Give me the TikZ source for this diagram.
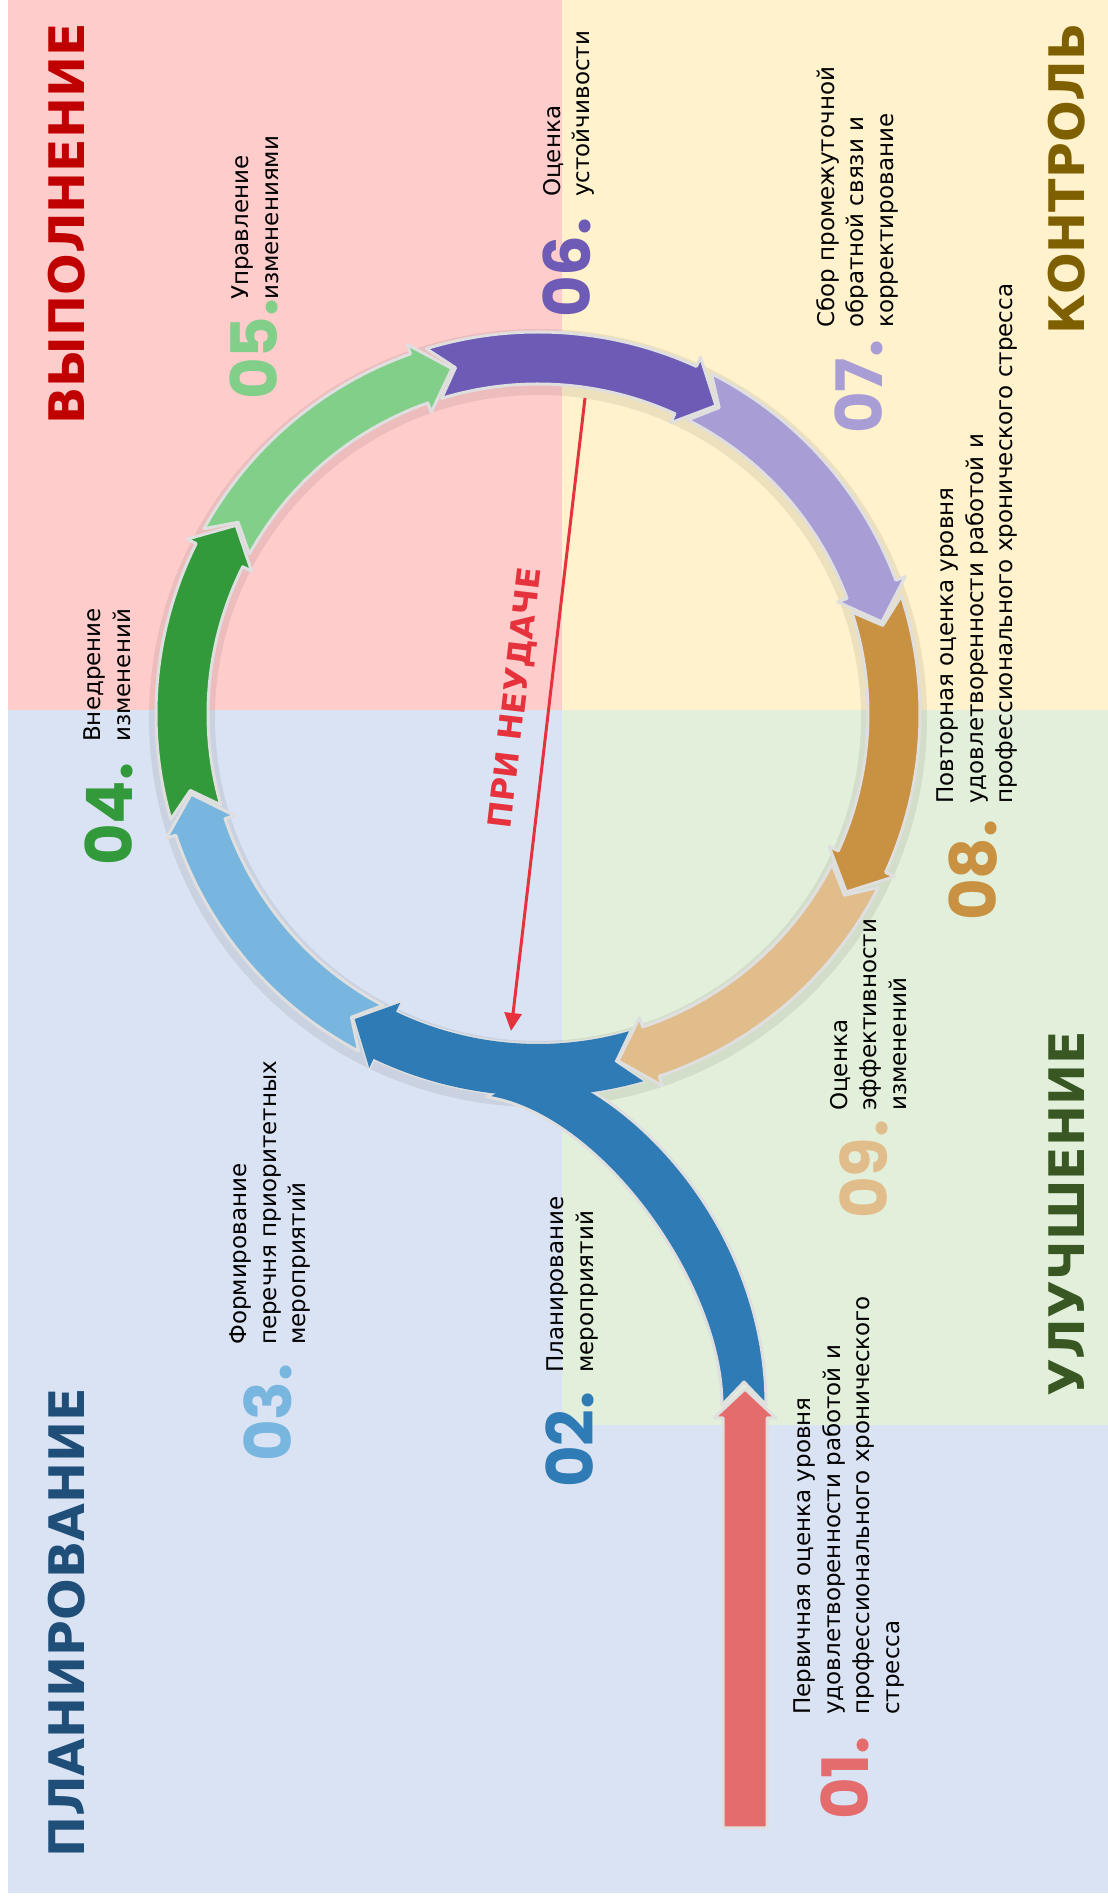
\documentclass[tikz,border=0pt]{standalone}
\usepackage{fontspec}
\setmainfont{DejaVu Sans}
\newfontfamily\numfont{Poppins}
\usetikzlibrary{arrows.meta}

\definecolor{bgred}{RGB}{255,204,204}
\definecolor{bgyel}{RGB}{255,242,204}
\definecolor{bggrn}{RGB}{226,239,218}
\definecolor{bgblu}{RGB}{218,227,243}
\definecolor{c1}{RGB}{228,108,108}
\definecolor{c2}{RGB}{46,123,181}
\definecolor{c3}{RGB}{120,182,224}
\definecolor{c4}{RGB}{51,154,60}
\definecolor{c5}{RGB}{130,207,138}
\definecolor{c6}{RGB}{110,91,181}
\definecolor{c7}{RGB}{169,157,213}
\definecolor{c8}{RGB}{201,146,66}
\definecolor{c9}{RGB}{226,189,140}
\definecolor{fail}{RGB}{230,50,60}
\definecolor{tplan}{RGB}{31,78,121}
\definecolor{tdo}{RGB}{192,0,0}
\definecolor{tcheck}{RGB}{127,96,0}
\definecolor{tact}{RGB}{56,87,35}

% ring piece: #1 = tip angle of the piece before, #2 = own tip angle
\newcommand{\ringseg}[2]{({#1+3}:382) arc[start angle={#1+3}, end angle={#2+5.5}, radius=382]
  -- ({#2+5.5}:392) -- (#2:356) -- ({#2+5.5}:320) -- ({#2+5.5}:330)
  arc[start angle={#2+5.5}, end angle={#1+3}, radius=330] -- ({#1-0.6}:356) -- cycle}

\begin{document}
\begin{tikzpicture}[x=1pt, y=1pt,
    seg/.style={draw=gray!25, line width=3pt, line join=round},
    lbl/.style={rotate=90, anchor=north west, align=left, inner sep=0pt, font=\fontsize{23}{29.5}\selectfont},
    num/.style={rotate=90, anchor=base west, inner sep=0pt, font=\numfont\bfseries\fontsize{64}{64}\selectfont},
    ttl/.style={rotate=90, inner sep=0pt, font=\bfseries\fontsize{49}{49}\selectfont}]
    \useasboundingbox (0,0) rectangle (1108,1904);
    \fill[white] (0,0) rectangle (1108,1904);
    \fill[bgred] (8,1194) rectangle (562,1904);
    \fill[bgyel] (562,1194) rectangle (1108,1904);
    \fill[bggrn] (562,479) rectangle (1108,1194);
    \fill[bgblu] (8,11) rectangle (562,1194);
    \fill[bgblu] (562,11) rectangle (1108,479);

    \node[ttl, anchor=base east, text=tdo] (do) at (84,1881) {ВЫПОЛНЕНИЕ};
    \node[ttl, anchor=base east, text=tcheck] (check) at (1084,1881) {КОНТРОЛЬ};
    \node[ttl, anchor=base west, text=tplan] (plan) at (84,46) {ПЛАНИРОВАНИЕ};
    \node[ttl, anchor=base west, text=tact] (act) at (1084,507) {УЛУЧШЕНИЕ};

    \begin{scope}[shift={(538,1190)}]
        \draw[black, opacity=.07, line width=66pt] (0,-4) circle[radius=356];
        \draw[seg, fill=c2] \ringseg{283}{239};
    \end{scope}
    \draw[seg, fill=c2] (722,499) -- (744,522) -- (766,499) .. controls (766,640) and (680,760) .. (590,814)
        -- (540,840) -- (487,807) .. controls (600,790) and (722,620) .. (722,499) -- cycle;
    \begin{scope}[shift={(538,1190)}]
        \fill[c2] \ringseg{283}{239};
        \foreach \p/\e/\c in {239/193/c3, 193/148/c4, 148/104/c5, 104/60/c6, 60/15/c7, 15/-30/c8, -30/-77/c9}
            \draw[seg, fill=\c] \ringseg{\p}{\e};
    \end{scope}
    \draw[seg, fill=c1] (723,76) -- (723,486) -- (714,486) -- (745,515) -- (776,486) -- (767,486) -- (767,76) -- cycle;

    \coordinate (fs) at (585,1506);
    \coordinate (fe) at (511,873);
    \draw[fail, line width=3pt, -{Triangle[length=18pt, width=17pt]}] (fs) -- (fe);
    \node[rotate=83.3, anchor=base, inner sep=0pt, text=fail, font=\bfseries\fontsize{32}{32}\selectfont] (fl) at (526,1205) {ПРИ НЕУДАЧЕ};

    \node[num, text=c1] (n01) at (868,84) {01.};
    \node[lbl] (t01) at (794,189) {Первичная оценка уровня\\удовлетворенности работой и\\профессионального хронического\\стресса};
    \node[num, text=c2] (n02) at (593,416) {02.};
    \node[lbl] (t02) at (547,531) {Планирование\\мероприятий};
    \node[num, text=c3] (n03) at (291,442) {03.};
    \node[lbl] (t03) at (230,559) {Формирование\\перечня приоритетных\\мероприятий};
    \node[num, text=c4] (n04) at (132,1038) {04.};
    \node[lbl] (t04) at (84,1162) {Внедрение\\изменений};
    \node[num, text=c5] (n05) at (277,1504) {05.};
    \node[lbl] (t05) at (232,1604) {Управление\\изменениями};
    \node[num, text=c6] (n06) at (590,1586) {06.};
    \node[lbl] (t06) at (543,1707) {Оценка\\устойчивости};
    \node[num, text=c7] (n07) at (882,1470) {07.};
    \node[lbl] (t07) at (816,1576) {Сбор промежуточной\\обратной связи и\\корректирование};
    \node[num, text=c8] (n08) at (996,983) {08.};
    \node[lbl] (t08) at (937,1100) {Повторная оценка уровня\\удовлетворенности работой и\\профессионального хронического стресса};
    \node[num, text=c9] (n09) at (887,685) {09.};
    \node[lbl] (t09) at (830,793) {Оценка\\эффективности\\изменений};
\end{tikzpicture}
\end{document}
